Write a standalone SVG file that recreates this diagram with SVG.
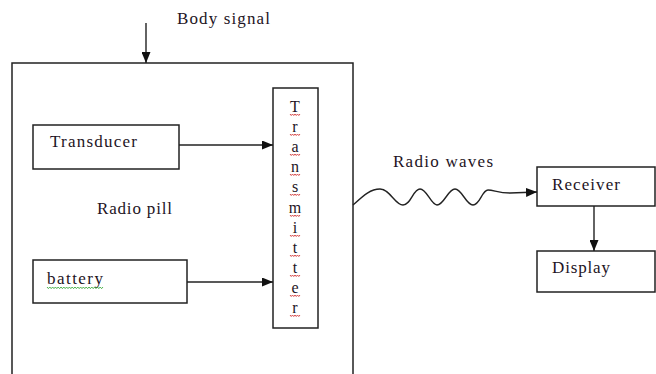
<svg xmlns="http://www.w3.org/2000/svg" width="656" height="374" viewBox="0 0 656 374">
<defs>
<style>
.box{fill:#fff;stroke:#222;stroke-width:1.5}
.lbl{font-size:17px;fill:#1e1424}
.tx{font-size:16px;fill:#1e1424;text-anchor:middle}
.con{fill:none;stroke:#222;stroke-width:1.4}
.sqr{fill:none;stroke:#d23a3a;stroke-width:0.9}
.sqg{fill:none;stroke:#3caa3c;stroke-width:0.9}
</style>
<marker id="ah" viewBox="0 0 11 9" refX="11" refY="4.5" markerWidth="11" markerHeight="9" markerUnits="userSpaceOnUse" orient="auto">
<path d="M0,0 L11,4.5 L0,9 Z" fill="#111"/>
</marker>
<path id="sq" d="M-5,0 l1.25,1.5 l1.25,-1.5 l1.25,1.5 l1.25,-1.5 l1.25,1.5 l1.25,-1.5 l1.25,1.5 l1.25,-1.5"/>
</defs>
<rect width="656" height="374" fill="#fff"/>
<g font-family="Liberation Serif, Times New Roman, serif">

<g id="radio-pill">
<rect class="box" x="12" y="63" width="341" height="330"/>
<text class="lbl" x="97" y="214" textLength="75">Radio pill</text>
</g>

<g id="body-signal">
<text class="lbl" x="177" y="24" textLength="93">Body signal</text>
</g>

<g id="transducer">
<rect class="box" x="33" y="125" width="146" height="44"/>
<text class="lbl" x="50" y="147" textLength="87">Transducer</text>
</g>

<g id="battery">
<rect class="box" x="33" y="260" width="154" height="43"/>
<text class="lbl" x="47" y="284" textLength="56">battery</text>
<path class="sqg" d="M47,287 l1.4,1.6 l1.4,-1.6 l1.4,1.6 l1.4,-1.6 l1.4,1.6 l1.4,-1.6 l1.4,1.6 l1.4,-1.6 l1.4,1.6 l1.4,-1.6 l1.4,1.6 l1.4,-1.6 l1.4,1.6 l1.4,-1.6 l1.4,1.6 l1.4,-1.6 l1.4,1.6 l1.4,-1.6 l1.4,1.6 l1.4,-1.6 l1.4,1.6 l1.4,-1.6 l1.4,1.6 l1.4,-1.6 l1.4,1.6 l1.4,-1.6 l1.4,1.6 l1.4,-1.6 l1.4,1.6 l1.4,-1.6 l1.4,1.6 l1.4,-1.6 l1.4,1.6 l1.4,-1.6 l1.4,1.6 l1.4,-1.6 l1.4,1.6 l1.4,-1.6 l1.4,1.6 l1.4,-1.6"/>
</g>

<g id="transmitter">
<rect class="box" x="273" y="88" width="45" height="240"/>
<text class="tx" x="295" y="112">T</text>
<text class="tx" x="295" y="132">r</text>
<text class="tx" x="295" y="152">a</text>
<text class="tx" x="295" y="172">n</text>
<text class="tx" x="295" y="192">s</text>
<text class="tx" x="295" y="213">m</text>
<text class="tx" x="295" y="233">i</text>
<text class="tx" x="295" y="253">t</text>
<text class="tx" x="295" y="273">t</text>
<text class="tx" x="295" y="293">e</text>
<text class="tx" x="295" y="313">r</text>
<g class="sqr">
<use href="#sq" x="295" y="114"/>
<use href="#sq" x="295" y="134"/>
<use href="#sq" x="295" y="154"/>
<use href="#sq" x="295" y="174"/>
<use href="#sq" x="295" y="194"/>
<use href="#sq" x="295" y="215"/>
<use href="#sq" x="295" y="235"/>
<use href="#sq" x="295" y="255"/>
<use href="#sq" x="295" y="275"/>
<use href="#sq" x="295" y="295"/>
<use href="#sq" x="295" y="315"/>
</g>
</g>

<g id="radio-waves">
<text class="lbl" x="393" y="167" textLength="100">Radio waves</text>
</g>

<g id="receiver">
<rect class="box" x="537" y="167" width="118" height="39"/>
<text class="lbl" x="552" y="190" textLength="68">Receiver</text>
</g>

<g id="display">
<rect class="box" x="537" y="251" width="118" height="41"/>
<text class="lbl" x="552" y="273" textLength="58">Display</text>
</g>
</g>

<g id="connectors">
<line class="con" x1="146" y1="23" x2="146" y2="63" marker-end="url(#ah)"/>
<line class="con" x1="179" y1="145" x2="273" y2="145" marker-end="url(#ah)"/>
<line class="con" x1="187" y1="282" x2="273" y2="282" marker-end="url(#ah)"/>
<path class="con" d="M353,205 C363,196 370,189 380,189 C390,189 395,205 403,205 C411,205 413,189 420,189 C427,189 431,205 437,205 C444,205 448,189 455,189 C462,189 466,205 473,205 C480,205 482,190 488,190 C494,190 498,193 510,193 L537,192" marker-end="url(#ah)"/>
<line class="con" x1="594" y1="206" x2="594" y2="251" marker-end="url(#ah)"/>
</g>
</svg>
